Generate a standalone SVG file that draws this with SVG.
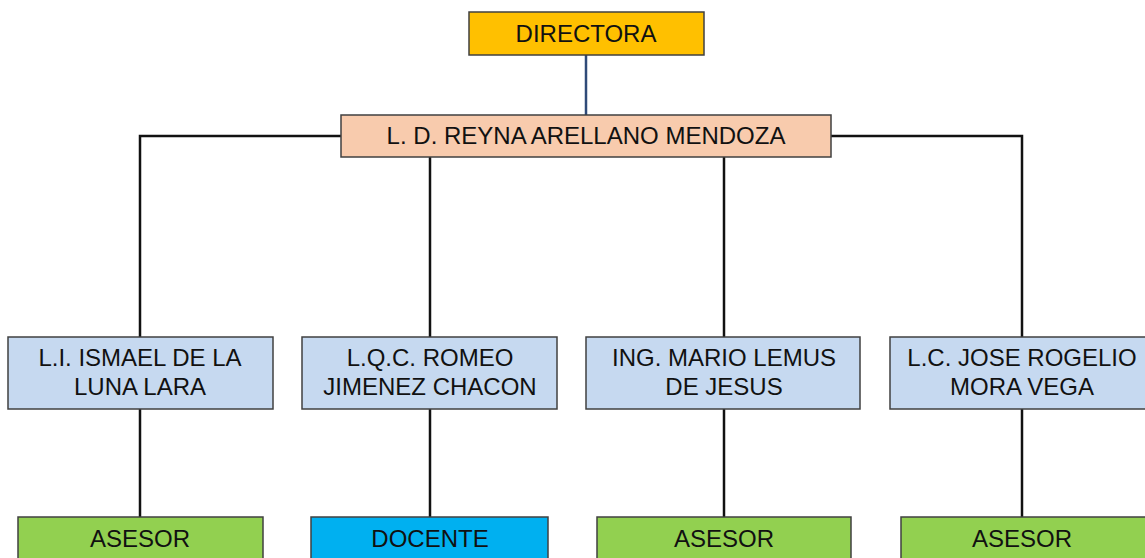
<svg xmlns="http://www.w3.org/2000/svg" width="1145" height="558" viewBox="0 0 1145 558">
<style>
.box{stroke:#404040;stroke-width:1.5}
.t{font-family:"Liberation Sans",Arial,sans-serif;font-size:24px;fill:#111;text-anchor:middle}
.c{fill:none;stroke:#111;stroke-width:2.5}
</style>
<rect width="1145" height="558" fill="#fff"/>
<g id="connectors">
<line x1="586" y1="55" x2="586" y2="115" stroke="#2F4A78" stroke-width="2.5"/>
<polyline class="c" points="341,136 140,136 140,337"/>
<polyline class="c" points="831,136 1022,136 1022,337"/>
<line class="c" x1="430" y1="157" x2="430" y2="337"/>
<line class="c" x1="724" y1="157" x2="724" y2="337"/>
<line class="c" x1="140" y1="409" x2="140" y2="517"/>
<line class="c" x1="430" y1="409" x2="430" y2="517"/>
<line class="c" x1="724" y1="409" x2="724" y2="517"/>
<line class="c" x1="1022" y1="409" x2="1022" y2="517"/>
</g>
<g id="directora"><rect class="box" x="469" y="12" width="235" height="43" fill="#FFC000"/><text class="t" x="586" y="42">DIRECTORA</text></g>
<g id="reyna"><rect class="box" x="341" y="115" width="490" height="42" fill="#F8CBAD"/><text class="t" x="586" y="144">L. D. REYNA ARELLANO MENDOZA</text></g>
<g id="ismael"><rect class="box" x="8" y="337" width="265" height="72" fill="#C6D9F0"/><text class="t" x="140" y="366">L.I. ISMAEL DE LA</text><text class="t" x="140" y="395">LUNA LARA</text></g>
<g id="romeo"><rect class="box" x="302" y="337" width="255" height="72" fill="#C6D9F0"/><text class="t" x="430" y="366">L.Q.C. ROMEO</text><text class="t" x="430" y="395">JIMENEZ CHACON</text></g>
<g id="mario"><rect class="box" x="586" y="337" width="274" height="72" fill="#C6D9F0"/><text class="t" x="724" y="366">ING. MARIO LEMUS</text><text class="t" x="724" y="395">DE JESUS</text></g>
<g id="jose"><rect class="box" x="890" y="337" width="262" height="72" fill="#C6D9F0"/><text class="t" x="1022" y="366">L.C. JOSE ROGELIO</text><text class="t" x="1022" y="395">MORA VEGA</text></g>
<g id="asesor1"><rect class="box" x="18" y="517" width="245" height="50" fill="#92D050"/><text class="t" x="140" y="547">ASESOR</text></g>
<g id="docente"><rect class="box" x="311" y="517" width="237" height="50" fill="#00B0F0"/><text class="t" x="430" y="547">DOCENTE</text></g>
<g id="asesor2"><rect class="box" x="597" y="517" width="254" height="50" fill="#92D050"/><text class="t" x="724" y="547">ASESOR</text></g>
<g id="asesor3"><rect class="box" x="901" y="517" width="254" height="50" fill="#92D050"/><text class="t" x="1022" y="547">ASESOR</text></g>
</svg>
